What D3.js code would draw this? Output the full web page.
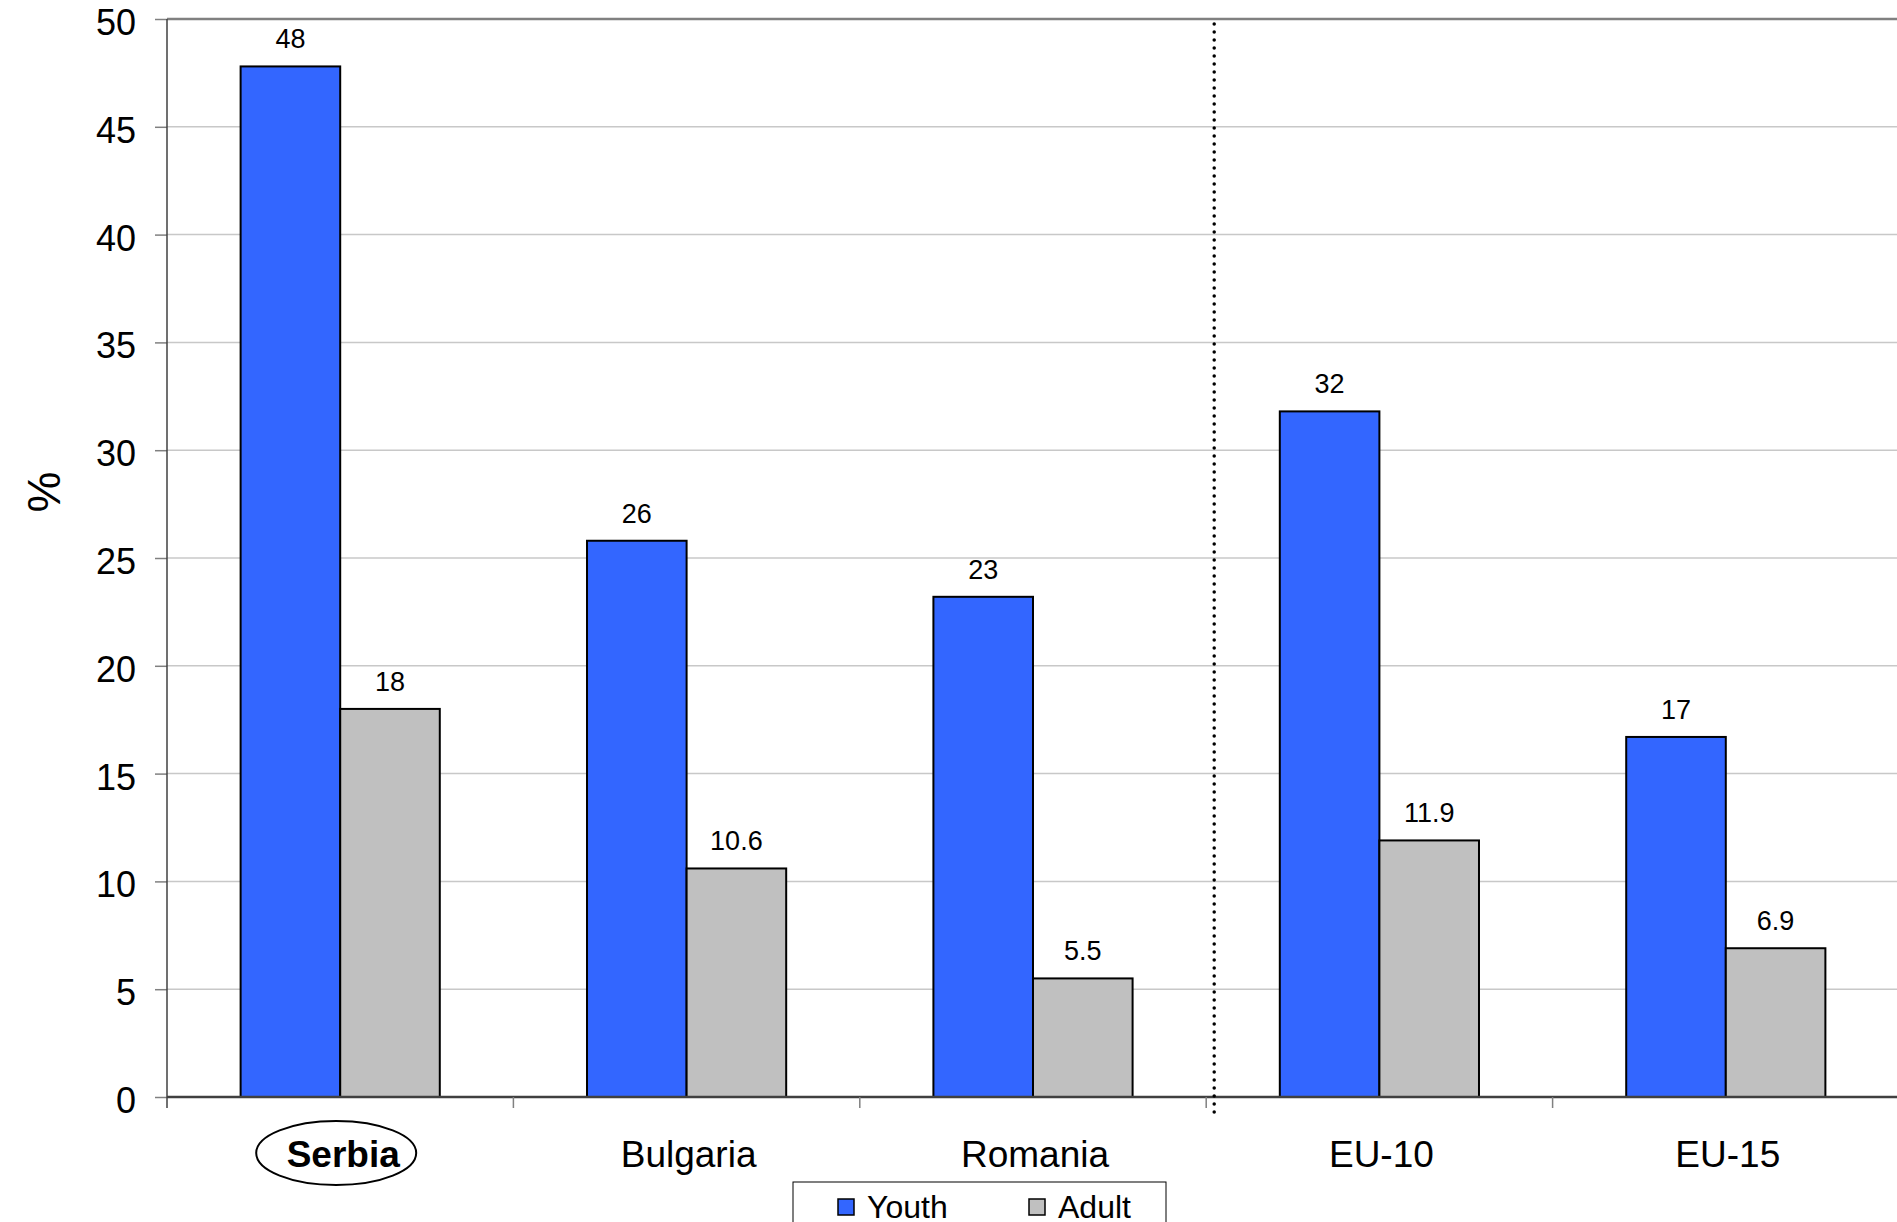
<!DOCTYPE html>
<html>
<head>
<meta charset="utf-8">
<script src="https://cdn.jsdelivr.net/npm/d3@7"></script>
<style>
  html, body { margin: 0; padding: 0; background: #fff; }
  svg { display: block; font-family: "Liberation Sans", Arial, sans-serif; }
</style>
</head>
<body>
<svg id="chart" width="1897" height="1222"></svg>
<script>
const categories = ["Serbia", "Bulgaria", "Romania", "EU-10", "EU-15"];
const series = ["Youth", "Adult"];
const youthValues = [47.8, 25.8, 23.2, 31.8, 16.7];
const adultValues = [18.0, 10.6, 5.5, 11.9, 6.9];
const youthLabels = ["48", "26", "23", "32", "17"];
const adultLabels = ["18", "10.6", "5.5", "11.9", "6.9"];
const yTicks = [0, 5, 10, 15, 20, 25, 30, 35, 40, 45, 50];
const colors = { Youth: "#3366FF", Adult: "#C0C0C0" };

(function () {
const svg = d3.select("#chart");
const pLeft = 167, pRight = 1899, pTop = 19, pBottom = 1097;

const y = d3.scaleLinear().domain([0, 50]).range([pBottom, pTop]);
const x = d3.scaleBand().domain(categories).range([pLeft, pRight]).padding(0);
const bw = x.bandwidth();
const x1 = d3.scaleBand().domain(series).range([bw * 0.2125, bw * 0.7875]).padding(0);

// gridlines
svg.append("g").selectAll("line").data(yTicks.filter(t => t > 0 && t < 50)).join("line")
  .attr("x1", pLeft).attr("x2", pRight)
  .attr("y1", d => y(d)).attr("y2", d => y(d))
  .attr("stroke", "#c8c8c8").attr("stroke-width", 1.5);
// top line
svg.append("line").attr("x1", pLeft).attr("x2", pRight)
  .attr("y1", y(50)).attr("y2", y(50))
  .attr("stroke", "#808080").attr("stroke-width", 2.5);

// y axis
const yAxis = d3.axisLeft(y).tickValues(yTicks).tickSize(12).tickPadding(19);
const yg = svg.append("g").attr("transform", `translate(${pLeft},0)`).call(yAxis);
yg.select(".domain").remove();
yg.selectAll(".tick line").attr("stroke", "#808080").attr("stroke-width", 1.5);
yg.selectAll(".tick text").attr("font-size", 36).attr("fill", "#000").attr("dy", "0.43em")
  .attr("font-family", "Liberation Sans, Arial, sans-serif");
svg.append("line").attr("x1", pLeft).attr("x2", pLeft)
  .attr("y1", pTop).attr("y2", pBottom + 11)
  .attr("stroke", "#404040").attr("stroke-width", 1.5);

// bars
const data = categories.map((c, i) => ({ cat: c, vals: [
  { s: "Youth", v: youthValues[i], label: youthLabels[i] },
  { s: "Adult", v: adultValues[i], label: adultLabels[i] }
]}));
const groups = svg.append("g").selectAll("g").data(data).join("g")
  .attr("transform", d => `translate(${x(d.cat)},0)`);
groups.selectAll("rect").data(d => d.vals).join("rect")
  .attr("x", d => x1(d.s)).attr("width", x1.bandwidth())
  .attr("y", d => y(d.v)).attr("height", d => y(0) - y(d.v))
  .attr("fill", d => colors[d.s]).attr("stroke", "#000").attr("stroke-width", 2);
groups.selectAll("text").data(d => d.vals).join("text")
  .attr("x", d => x1(d.s) + x1.bandwidth() / 2)
  .attr("y", d => y(d.v) - 18)
  .attr("text-anchor", "middle").attr("font-size", 27).attr("fill", "#000")
  .text(d => d.label);

// x axis
const xg = svg.append("g");
xg.append("line").attr("x1", pLeft).attr("x2", pRight)
  .attr("y1", pBottom).attr("y2", pBottom)
  .attr("stroke", "#404040").attr("stroke-width", 2.5);
xg.selectAll("line.tick").data(categories.slice(1)).join("line").attr("class", "tick")
  .attr("x1", d => x(d)).attr("x2", d => x(d))
  .attr("y1", pBottom).attr("y2", pBottom + 11)
  .attr("stroke", "#808080").attr("stroke-width", 1.5);
xg.selectAll("text").data(categories).join("text")
  .attr("x", d => x(d) + bw / 2 + (d === "Serbia" ? 3 : 2))
  .attr("y", 1167)
  .attr("text-anchor", "middle").attr("font-size", 37)
  .attr("font-weight", d => d === "Serbia" ? "bold" : "normal")
  .attr("fill", "#000").text(d => d);
// ellipse around Serbia
xg.append("ellipse")
  .attr("cx", x("Serbia") + bw / 2 - 4).attr("cy", 1153)
  .attr("rx", 80).attr("ry", 32)
  .attr("fill", "none").attr("stroke", "#000").attr("stroke-width", 2);

// dotted separator between Romania and EU-10
svg.append("line")
  .attr("x1", x("EU-10") + 8).attr("x2", x("EU-10") + 8)
  .attr("y1", 24).attr("y2", pBottom + 16)
  .attr("stroke", "#000").attr("stroke-width", 3.5)
  .attr("stroke-linecap", "round").attr("stroke-dasharray", "0,8");

// y title
svg.append("text").attr("transform", "translate(60,492) rotate(-90)")
  .attr("text-anchor", "middle").attr("font-size", 46).attr("fill", "#000").text("%");

// legend
const lg = svg.append("g");
lg.append("rect").attr("x", 793).attr("y", 1182).attr("width", 373).attr("height", 60)
  .attr("fill", "#fff").attr("stroke", "#000").attr("stroke-width", 1);
const legendX = [838, 1029];
series.forEach((s, i) => {
  lg.append("rect").attr("x", legendX[i]).attr("y", 1199).attr("width", 16).attr("height", 16)
    .attr("fill", colors[s]).attr("stroke", "#000").attr("stroke-width", 1.5);
  lg.append("text").attr("x", legendX[i] + 29).attr("y", 1218)
    .attr("font-size", 32).attr("fill", "#000").text(s);
});
})();
</script>
</body>
</html>
